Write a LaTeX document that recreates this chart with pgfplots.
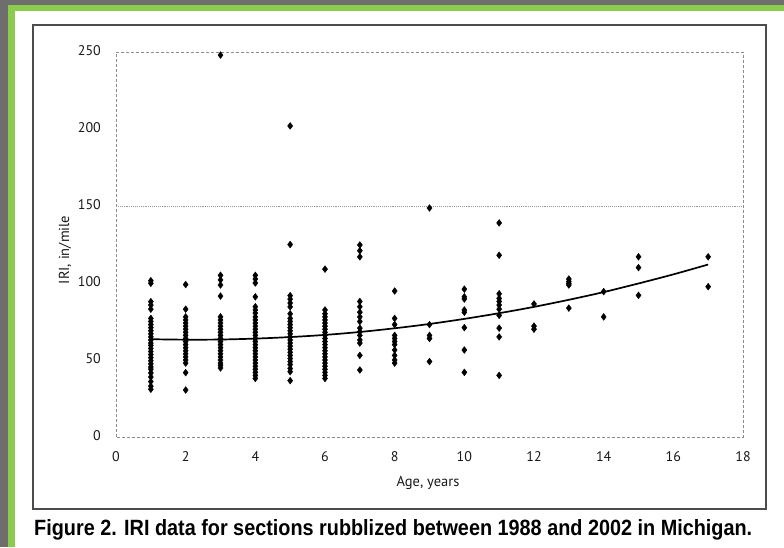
\documentclass[border=0pt]{standalone}
\usepackage{pgfplots}
\pgfplotsset{compat=1.18}
\usepackage{fontspec}
\setmainfont{PT Sans}
\newfontfamily\capfont{Liberation Sans}
\definecolor{frame}{HTML}{6E6E6E}
\definecolor{fgreen}{HTML}{8DCB4E}
\begin{document}
\begin{tikzpicture}[x=1pt,y=1pt]
\useasboundingbox (0,0) rectangle (784,547);
\fill[frame] (0,0) rectangle (784,547);
\fill[fgreen] (8,0) rectangle (784,542);
\fill[white] (15,0) rectangle (784,536);
\draw[line width=1.3pt, black!70] (33,38) rectangle (766,522);
\begin{axis}[
  at={(116pt,110pt)}, anchor=south west,
  scale only axis, width=627pt, height=385pt,
  xmin=0, xmax=18, ymin=0, ymax=250,
  xtick={0,2,...,18}, ytick={0,50,...,250},
  major tick length=0pt,
  axis line style={black!45, densely dashed, line width=0.7pt},
  /pgf/number format/assume math mode=true,
  tick label style={font=\fontsize{14}{16}\selectfont, text=black!90},
  xticklabel style={inner sep=0pt, anchor=base, yshift=-24.5pt},
  yticklabel style={inner sep=0pt, anchor=base east, xshift=-15pt, yshift=-3.8pt},
  xlabel={Age, years}, ylabel={IRI, in/mile},
  label style={font=\fontsize{14.5}{17}\selectfont, text=black!90},
  xlabel style={at={(axis description cs:0.4976,-0.1195)}, anchor=center},
  ylabel style={at={(axis description cs:-0.0813,0.486)}, anchor=center},
  clip=false,
]
\draw[black!40, densely dotted, line width=0.9pt] (axis cs:0,150) -- (axis cs:18,150);
\addplot[only marks, mark=diamond*, mark size=3.4pt, black] coordinates {
(1,101.5)(1,99.8)(1,87.9)(1,85.7)(1,83)(1,77)(1,75)(1,73)(1,71)(1,69)(1,67)(1,65)(1,63)(1,61)(1,59.5)(1,57.5)(1,55.5)(1,53.5)(1,51.5)(1,49.5)(1,47.5)(1,45.5)(1,44)(1,41.6)(1,39)(1,36)(1,33)(1,31)
(2,99)(2,83)(2,78)(2,76)(2,74)(2,72)(2,70)(2,68)(2,66)(2,64)(2,62)(2,60)(2,58)(2,56)(2,54)(2,52)(2,50)(2,48)(2,41.8)(2,30.5)
(3,248)(3,105)(3,102)(3,98.7)(3,91.5)(3,78)(3,76)(3,74)(3,72)(3,70)(3,68)(3,66)(3,64)(3,62)(3,60)(3,58)(3,56)(3,54)(3,52)(3,50)(3,48)(3,46.5)(3,44.8)
(4,105)(4,102.6)(4,100)(4,91)(4,84.6)(4,82.5)(4,80.5)(4,78)(4,76)(4,74)(4,72)(4,70)(4,68)(4,66)(4,64)(4,62)(4,60)(4,58)(4,56)(4,54)(4,52)(4,50)(4,48)(4,46)(4,44)(4,42)(4,40)(4,38)
(5,202)(5,125)(5,91.8)(5,89.5)(5,87)(5,84.5)(5,80)(5,77)(5,75)(5,73)(5,71)(5,69)(5,67)(5,65)(5,63)(5,61)(5,59)(5,57)(5,55)(5,53)(5,51)(5,49)(5,47)(5,44.5)(5,42.4)(5,36.6)
(6,109)(6,82.5)(6,80)(6,78)(6,76)(6,74)(6,72)(6,70)(6,68)(6,66)(6,64)(6,62)(6,60)(6,58)(6,56)(6,54)(6,52)(6,50)(6,48)(6,46)(6,44)(6,42)(6,40)(6,38)
(7,124.7)(7,121)(7,117)(7,88)(7,84.6)(7,81)(7,78)(7,75)(7,70.7)(7,68.4)(7,66)(7,63)(7,61)(7,53)(7,43.5)
(8,94.8)(8,77)(8,73)(8,66)(8,64)(8,62)(8,60)(8,56.5)(8,53)(8,50)(8,48)
(9,148.7)(9,73)(9,66)(9,64)(9,49)
(10,96)(10,91)(10,89.6)(10,82.5)(10,81)(10,71)(10,56.5)(10,42)
(11,139)(11,118)(11,93)(11,90)(11,88)(11,85.7)(11,83)(11,79)(11,70.7)(11,65)(11,40)
(12,86.4)(12,72)(12,70)
(13,102.6)(13,101)(13,99.8)(13,98.7)(13,83.7)
(14,94.4)(14,78)
(15,117)(15,110)(15,92)
(17,117)(17,97.6)
};
\addplot[black, line width=1.7pt, smooth] coordinates {
(1,63.5)(2,63.2)(3,63.3)(4,63.9)(5,64.9)(6,66.3)(7,68.2)(8,70.6)(9,73.4)(10,76.7)(11,80.4)(12,84.5)(13,89.1)(14,94.1)(15,99.7)(16,105.6)(17,112)
};
\end{axis}
\node[anchor=base west, inner sep=0pt] at (34,12) {\resizebox{718pt}{16pt}{\capfont\bfseries Figure 2. IRI data for sections rubblized between 1988 and 2002 in Michigan.}};
\end{tikzpicture}
\end{document}
